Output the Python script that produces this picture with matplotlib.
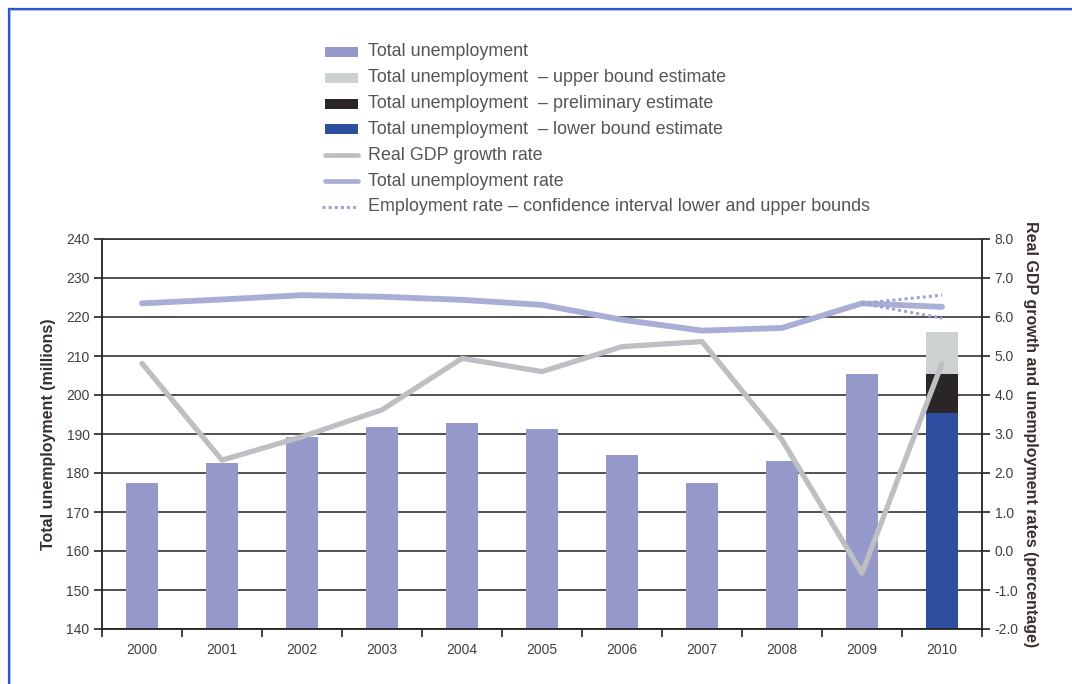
import matplotlib
matplotlib.use("Agg")
import matplotlib.pyplot as plt
from matplotlib.lines import Line2D
from matplotlib.patches import Rectangle
import numpy as np

plt.rcParams['font.family'] = ['Liberation Sans', 'DejaVu Sans']
plt.rcParams['axes.unicode_minus'] = False

# ---------------- data ----------------
years = ['2000', '2001', '2002', '2003', '2004', '2005', '2006', '2007', '2008', '2009', '2010']
total_unemployment = [177.5, 182.6, 189.2, 191.9, 192.7, 191.4, 184.7, 177.5, 183.1, 205.3]  # 2000-2009
unemp_2010_lower = 195.5
unemp_2010_prelim = 205.3
unemp_2010_upper = 216.2
gdp_growth = [4.81, 2.33, 2.93, 3.62, 4.94, 4.60, 5.24, 5.37, 2.85, -0.57, 4.81]
unemp_rate = [6.35, 6.45, 6.56, 6.52, 6.44, 6.31, 5.93, 5.65, 5.72, 6.35, 6.26]
ci_years = ['2009', '2010']
ci_lower = [6.35, 5.97]
ci_upper = [6.35, 6.56]
left_ticks = [140, 150, 160, 170, 180, 190, 200, 210, 220, 230, 240]
right_ticks = [-2.0, -1.0, 0.0, 1.0, 2.0, 3.0, 4.0, 5.0, 6.0, 7.0, 8.0]
legend_labels = [
    'Total unemployment',
    'Total unemployment  \u2013 upper bound estimate',
    'Total unemployment  \u2013 preliminary estimate',
    'Total unemployment  \u2013 lower bound estimate',
    'Real GDP growth rate',
    'Total unemployment rate',
    'Employment rate \u2013 confidence interval lower and upper bounds',
]

# ---------------- style ----------------
C_BAR = '#9499C9'
C_UPPER = '#CDD1D2'
C_PRELIM = '#2B2626'
C_LOWER = '#2E4FA0'
C_GDP = '#BFBFC3'
C_RATE = '#A9AED6'
C_CI = '#9EA3D3'
C_GRID = '#333333'
C_TICK = '#404040'
C_LABEL = '#3A2E2A'

W, H = 1072, 684
fig = plt.figure(figsize=(W / 100, H / 100), dpi=100)
fig.patch.set_facecolor('white')

def fx(px):
    return px / W

def fy(py):
    return 1 - py / H

ax = fig.add_axes([fx(102), fy(629), fx(982) - fx(102), fy(239) - fy(629)])
x = np.arange(len(years))

ax.set_xlim(-0.5, len(years) - 0.5)
ax.set_ylim(140, 240)
ax.set_axisbelow(True)
ax.grid(axis='y', color=C_GRID, linewidth=1.2)
ax.grid(axis='x', visible=False)

bw = 0.4
ax.bar(x[:len(total_unemployment)], total_unemployment, width=bw, color=C_BAR, zorder=2)
ax.bar(x[10], unemp_2010_lower, width=bw, color=C_LOWER, zorder=2)
ax.bar(x[10], unemp_2010_prelim - unemp_2010_lower, bottom=unemp_2010_lower, width=bw, color=C_PRELIM, zorder=2)
ax.bar(x[10], unemp_2010_upper - unemp_2010_prelim, bottom=unemp_2010_prelim, width=bw, color=C_UPPER, zorder=2)

ax.set_yticks(left_ticks)
ax.set_yticklabels([str(t) for t in left_ticks], fontsize=10, color=C_TICK)
ax.tick_params(axis='y', direction='out', length=6, width=1.2, color='#222222', pad=3)

ax.set_xticks(x)
ax.set_xticklabels(years, fontsize=10, color=C_TICK)
ax.set_xticks(np.arange(-0.5, len(years), 1.0), minor=True)
ax.tick_params(axis='x', which='major', length=0, pad=10)
ax.tick_params(axis='x', which='minor', direction='out', length=6, width=1.2, color='#222222')

for s in ['left', 'right', 'bottom']:
    ax.spines[s].set_color('#222222')
    ax.spines[s].set_linewidth(1.3)
ax.spines['top'].set_color(C_GRID)
ax.spines['top'].set_linewidth(1.2)

ax.set_ylabel('Total unemployment (millions)', fontsize=11.5, fontweight='bold', color=C_LABEL, labelpad=7)

ax2 = ax.twinx()
ax2.set_ylim(-2, 8)
ax2.plot(x, gdp_growth, color=C_GDP, linewidth=3.8, solid_capstyle='round', solid_joinstyle='round', zorder=3)
ax2.plot(x, unemp_rate, color=C_RATE, linewidth=4.2, solid_capstyle='round', solid_joinstyle='round', zorder=4)
ci_x = [years.index(y) for y in ci_years]
ax2.plot(ci_x, ci_lower, color=C_CI, linewidth=2.2, linestyle=(0, (1, 1)), zorder=4)
ax2.plot(ci_x, ci_upper, color=C_CI, linewidth=2.2, linestyle=(0, (1, 1)), zorder=4)

ax2.set_yticks(right_ticks)
ax2.set_yticklabels(['%.1f' % t for t in right_ticks], fontsize=10, color=C_TICK)
ax2.tick_params(axis='y', direction='out', length=6, width=1.2, color='#222222', pad=3)
for s in ax2.spines.values():
    s.set_visible(False)
ax2.set_ylabel('Real GDP growth and unemployment rates (percentage)', fontsize=11.5,
               fontweight='bold', color=C_LABEL, rotation=-90, labelpad=14)

# ---------------- legend (manual) ----------------
rows = [52, 78, 104, 129, 155, 181, 207]
hx0, hx1 = 325, 358
kinds = [('patch', C_BAR), ('patch', C_UPPER), ('patch', C_PRELIM), ('patch', C_LOWER),
         ('line', C_GDP), ('line', C_RATE), ('dot', C_CI)]
for (kind, col), ry, lab in zip(kinds, rows, legend_labels):
    if kind == 'patch':
        fig.add_artist(Rectangle((fx(hx0), fy(ry + 5)), fx(hx1) - fx(hx0), fy(ry - 5) - fy(ry + 5),
                                 transform=fig.transFigure, facecolor=col, edgecolor='none'))
    elif kind == 'line':
        fig.add_artist(Line2D([fx(hx0), fx(hx1)], [fy(ry), fy(ry)], transform=fig.transFigure,
                              color=col, linewidth=3.4, solid_capstyle='round'))
    else:
        fig.add_artist(Line2D([fx(hx0 - 3), fx(hx1)], [fy(ry), fy(ry)], transform=fig.transFigure,
                              color=col, linewidth=2.2, linestyle=(0, (1, 1))))
    fig.text(fx(368), fy(ry), lab, fontsize=12.9, color='#555555', va='center', ha='left')

# ---------------- blue frame ----------------
fig.add_artist(Line2D([fx(8.5), fx(8.5)], [fy(8.5), 0], transform=fig.transFigure, color='#2B55C9', linewidth=1.6))
fig.add_artist(Line2D([fx(8.5), 1], [fy(8.5), fy(8.5)], transform=fig.transFigure, color='#2B55C9', linewidth=1.6))
fig.add_artist(Line2D([fx(10), fx(10)], [fy(10), 0], transform=fig.transFigure, color='#A9BBEE', linewidth=0.8))
fig.add_artist(Line2D([fx(10), 1], [fy(10), fy(10)], transform=fig.transFigure, color='#A9BBEE', linewidth=0.8))

fig.savefig('out.png', dpi=100, facecolor='white')
